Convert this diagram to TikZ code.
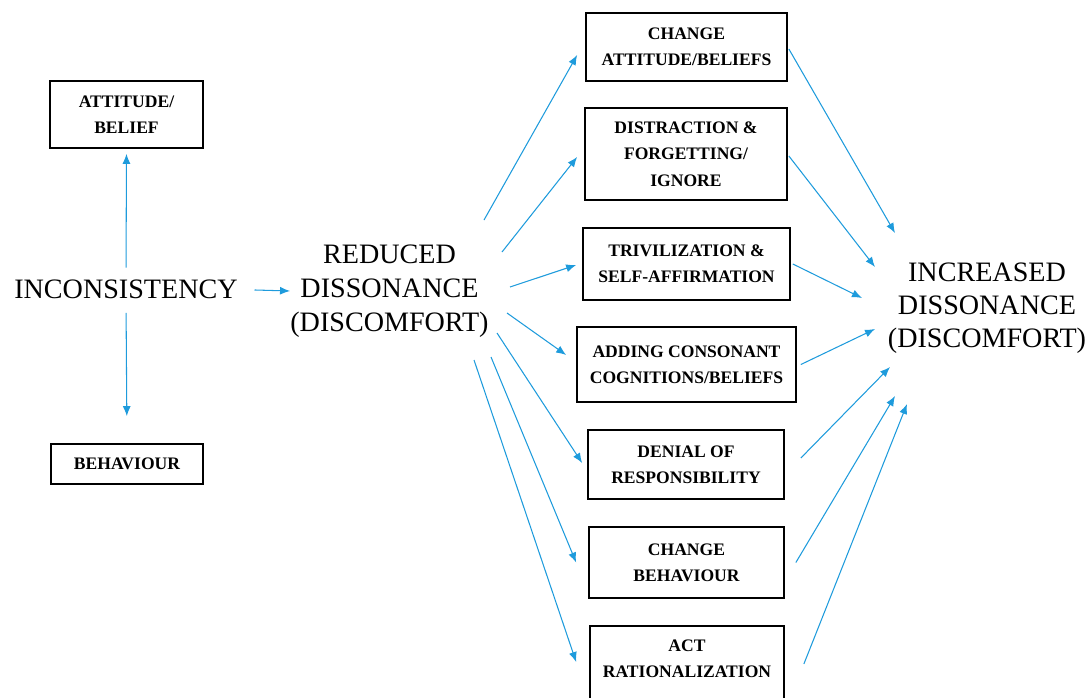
\documentclass[tikz,border=0pt]{standalone}
\usepackage{fontspec}
\setmainfont{Liberation Serif}
\usetikzlibrary{arrows.meta,calc,positioning}
\definecolor{linkblue}{RGB}{30,155,220}
\tikzstyle{outcome}=[draw,line width=1pt,align=center,inner sep=0pt,font=\fontsize{10}{15}\selectfont\bfseries]
\tikzstyle{state}=[align=center,inner sep=0pt,font=\fontsize{16}{19.4}\selectfont]
\tikzstyle{link}=[-{Latex[length=2mm,width=1.6mm]},draw=linkblue,line width=0.6pt]

\begin{document}
\begin{tikzpicture}[x=0.02cm,y=-0.02cm]
    \useasboundingbox (0,0) rectangle (1092,697);
    % left part
    \node[state] (incon) at (126,289.5) {INCONSISTENCY};
    \node[outcome,minimum width=3.06cm,minimum height=1.34cm] (belief) at (126.5,114.5) {ATTITUDE/\\BELIEF};
    \node[outcome,minimum width=3.04cm,minimum height=0.8cm] (behav) at (127,464) {BEHAVIOUR};
    \node[state] (reduced) at (389.5,291) {REDUCED\\DISSONANCE\\(DISCOMFORT)};
    \node[state,font=\fontsize{16}{18.6}\selectfont] (inc) at (987,308) {INCREASED\\DISSONANCE\\(DISCOMFORT)};
    % ways out
    \node[outcome,minimum width=4.02cm,minimum height=1.36cm] (c1) at (686.5,47) {CHANGE\\ATTITUDE/BELIEFS};
    \node[outcome,minimum width=4.04cm,minimum height=1.84cm] (c2) at (686,154) {DISTRACTION \&\\FORGETTING/\\IGNORE};
    \node[outcome,minimum width=4.14cm,minimum height=1.44cm] (c3) at (686.5,264) {TRIVILIZATION \&\\SELF-AFFIRMATION};
    \node[outcome,minimum width=4.38cm,minimum height=1.5cm] (c4) at (686.5,364.5) {ADDING CONSONANT\\COGNITIONS/BELIEFS};
    \node[outcome,minimum width=3.92cm,minimum height=1.38cm] (c5) at (686,464.5) {DENIAL OF\\RESPONSIBILITY};
    \node[outcome,minimum width=3.9cm,minimum height=1.42cm] (c6) at (686.5,562.5) {CHANGE\\BEHAVIOUR};
    \node[outcome,minimum width=3.88cm,minimum height=1.84cm] (c7) at (687,672) {ACT\\RATIONALIZATION\\~};

    \draw[link,shorten <=0.24cm,shorten >=0.1cm] (incon.north) -- (belief.south);
    \draw[link,shorten <=0.27cm,shorten >=0.54cm] (incon.south) -- (behav.north);
    \draw[link,shorten <=0.33cm] (incon.east) -- (reduced.west);

    \foreach \b/\sx/\sy/\ex/\ey in {c1/94.5/-71/-8/8, c2/112.5/-39/-7/3, c3/120.5/-4/-6/1,
            c4/117.5/22/-10/-9.5, c5/107.5/42/-5/-1.5, c6/101.5/66/-12/0, c7/84.5/69/-13/-10}
        \draw[link] ($(reduced)+(\sx,\sy)$) -- ($(\b.west)+(\ex,\ey)$);

    \foreach \b/\sx/\sy/\ex/\ey in {c1/1/2/-92/-75, c2/1/2/-112/-41, c3/2/0/-125/-10,
            c4/4/0/-112/21, c5/16/-6.5/-97/59, c6/11/0/-92/88, c7/19/-8/-80/96}
        \draw[link] ($(\b.east)+(\sx,\sy)$) -- ($(inc)+(\ex,\ey)$);
\end{tikzpicture}
\end{document}
